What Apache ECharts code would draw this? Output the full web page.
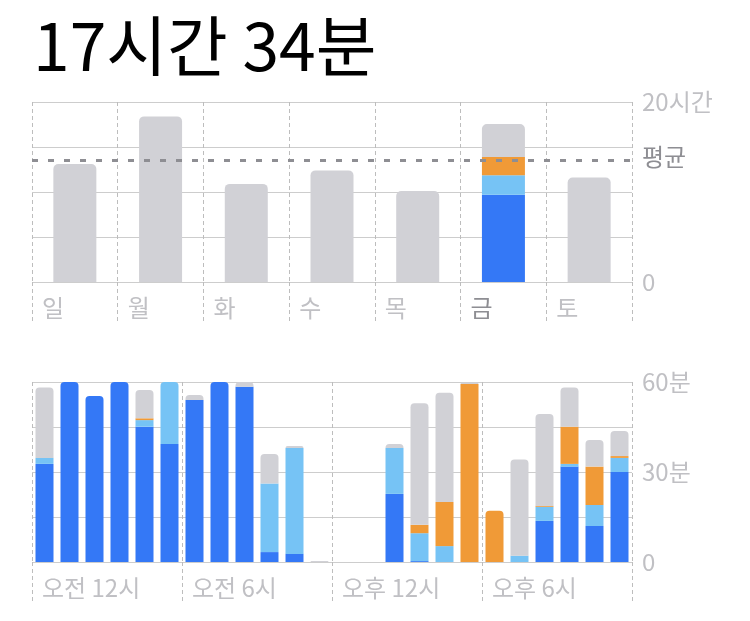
<!DOCTYPE html>
<html>
<head>
<meta charset="utf-8">
<style>
  html, body { margin: 0; padding: 0; background: #fff; }
  #chart { width: 750px; height: 621px; }
</style>
<script src="https://cdn.jsdelivr.net/npm/echarts@6/dist/echarts.min.js"></script>
</head>
<body>
<div id="chart"></div>
<script>
// ===== Data =====
const titleText = '17시간 34분';

// weekly view (hours)
const days = ['일', '월', '화', '수', '목', '금', '토'];
const selectedDay = 5;
const dayBlue   = [0, 0, 0, 0, 0, 9.7, 0];
const dayLight  = [0, 0, 0, 0, 0, 2.15, 0];
const dayOrange = [0, 0, 0, 0, 0, 2.05, 0];
const dayGray   = [13.1, 18.4, 10.9, 12.4, 10.1, 3.66, 11.6];
const dayAverage = 13.55;
const dayTicks = { 0: '0', 20: '20시간' };

// hourly view (minutes)
const hourLabels = ['오전 12시', '', '', '', '', '', '오전 6시', '', '', '', '', '',
                    '오후 12시', '', '', '', '', '', '오후 6시', '', '', '', '', ''];
const hourBlue   = [32.7, 60, 55.3, 60, 45.1, 39.3, 54, 60, 58.4, 3.3, 2.7, 0,
                    0, 0, 22.7, 0.3, 0, 0, 0, 0, 13.7, 31.8, 12, 30];
const hourLight  = [2, 0, 0, 0, 2.2, 20.7, 0, 0, 0, 22.9, 35.3, 0,
                    0, 0, 15.3, 9.3, 5.3, 0, 0, 2.1, 4.7, 0.9, 7, 4.7];
const hourOrange = [0, 0, 0, 0, 0.6, 0, 0, 0, 0, 0, 0, 0,
                    0, 0, 0, 2.8, 14.7, 59.3, 17.1, 0, 0.3, 12.4, 12.8, 0.6];
const hourGray   = [23.5, 0, 0, 0, 9.4, 0, 1.7, 0, 1.6, 9.8, 0.7, 0.3,
                    0, 0, 1.3, 40.5, 36.4, 0.5, 0, 32.1, 30.6, 13.1, 8.9, 8.4];
const hourTicks = { 0: '0', 30: '30분', 60: '60분' };

// ===== Styles =====
const FONT = '"Noto Sans CJK KR", "Noto Sans", sans-serif';
const COLORS = ['#3478f6', '#76c3f5', '#f09a37', '#d1d1d6'];
const LABEL_GRAY = '#c0c0c4';
const GRID_GRAY = '#cdcdcd';
const DASH_GRAY = '#bdbdbd';

// round only the top-most non-empty segment of each stack
function stackData(stacks, r) {
  const n = stacks[0].length;
  const top = [];
  for (let i = 0; i < n; i++) {
    let t = -1;
    stacks.forEach((s, k) => { if (s[i] > 0) t = k; });
    top.push(t);
  }
  return stacks.map((s, k) => s.map((v, i) => ({
    value: v,
    itemStyle: { borderRadius: top[i] === k ? [r, r, 0, 0] : 0 }
  })));
}

const dayStacks = stackData([dayBlue, dayLight, dayOrange, dayGray], 5);
const hourStacks = stackData([hourBlue, hourLight, hourOrange, hourGray], 4);

function labelAxis(gridIndex, data, interval, colorFn) {
  return {
    type: 'category', gridIndex, position: 'bottom', boundaryGap: false, data: data.concat(['']),
    axisLine: { show: false },
    axisTick: { show: true, length: 40, interval, lineStyle: { color: DASH_GRAY, type: [4, 3] } },
    splitLine: { show: true, interval, lineStyle: { color: DASH_GRAY, type: [4, 3] } },
    axisLabel: {
      interval, align: 'left', padding: [0, 0, 0, 10], margin: 14,
      fontSize: 24, fontFamily: FONT, color: colorFn || LABEL_GRAY
    }
  };
}

function barAxis(gridIndex, data) {
  return {
    type: 'category', gridIndex, position: 'bottom', data,
    axisLine: { show: false }, axisTick: { show: false },
    axisLabel: { show: false }, splitLine: { show: false }
  };
}

function valueAxis(gridIndex, max, interval, ticks) {
  return {
    type: 'value', gridIndex, position: 'right', min: 0, max, interval,
    axisLine: { show: false }, axisTick: { show: false },
    splitLine: { lineStyle: { color: GRID_GRAY, width: 1 } },
    axisLabel: {
      margin: 10, fontSize: 24, fontFamily: FONT, color: LABEL_GRAY,
      formatter: v => ticks[v] || ''
    }
  };
}

const names = ['a', 'b', 'c', 'd'];
const series = [];
dayStacks.forEach((d, k) => {
  series.push({
    name: names[k], type: 'bar', stack: 'day', xAxisIndex: 0, yAxisIndex: 0,
    barWidth: 43, data: d, itemStyle: { color: COLORS[k] }, silent: true,
    markLine: k === 3 ? {
      symbol: 'none', silent: true,
      lineStyle: { color: '#8e8e93', type: [6, 10], width: 3 },
      label: { position: 'end', formatter: '평균', fontSize: 24, fontFamily: FONT, color: '#8e8e93', distance: 10, offset: [0, -3] },
      data: [{ yAxis: dayAverage }]
    } : undefined
  });
});
hourStacks.forEach((d, k) => {
  series.push({
    name: names[k], type: 'bar', stack: 'hour', xAxisIndex: 2, yAxisIndex: 1,
    barWidth: 18, data: d, itemStyle: { color: COLORS[k] }, silent: true
  });
});

const chart = echarts.init(document.getElementById('chart'));
chart.setOption({
  backgroundColor: '#fff',
  animation: false,
  title: {
    text: titleText, left: 28, top: 8,
    textStyle: { fontSize: 66, fontWeight: 'normal', color: '#000', fontFamily: FONT }
  },
  grid: [
    { left: 32, right: 118, top: 102, height: 180 },
    { left: 32, right: 118, top: 382, height: 180 }
  ],
  xAxis: [
    barAxis(0, days),
    labelAxis(0, days, 0, (v, i) => i === selectedDay ? '#8e8e93' : LABEL_GRAY),
    barAxis(1, hourLabels),
    labelAxis(1, hourLabels, 5)
  ],
  yAxis: [
    valueAxis(0, 20, 5, dayTicks),
    valueAxis(1, 60, 15, hourTicks)
  ],
  series
});
</script>
</body>
</html>
